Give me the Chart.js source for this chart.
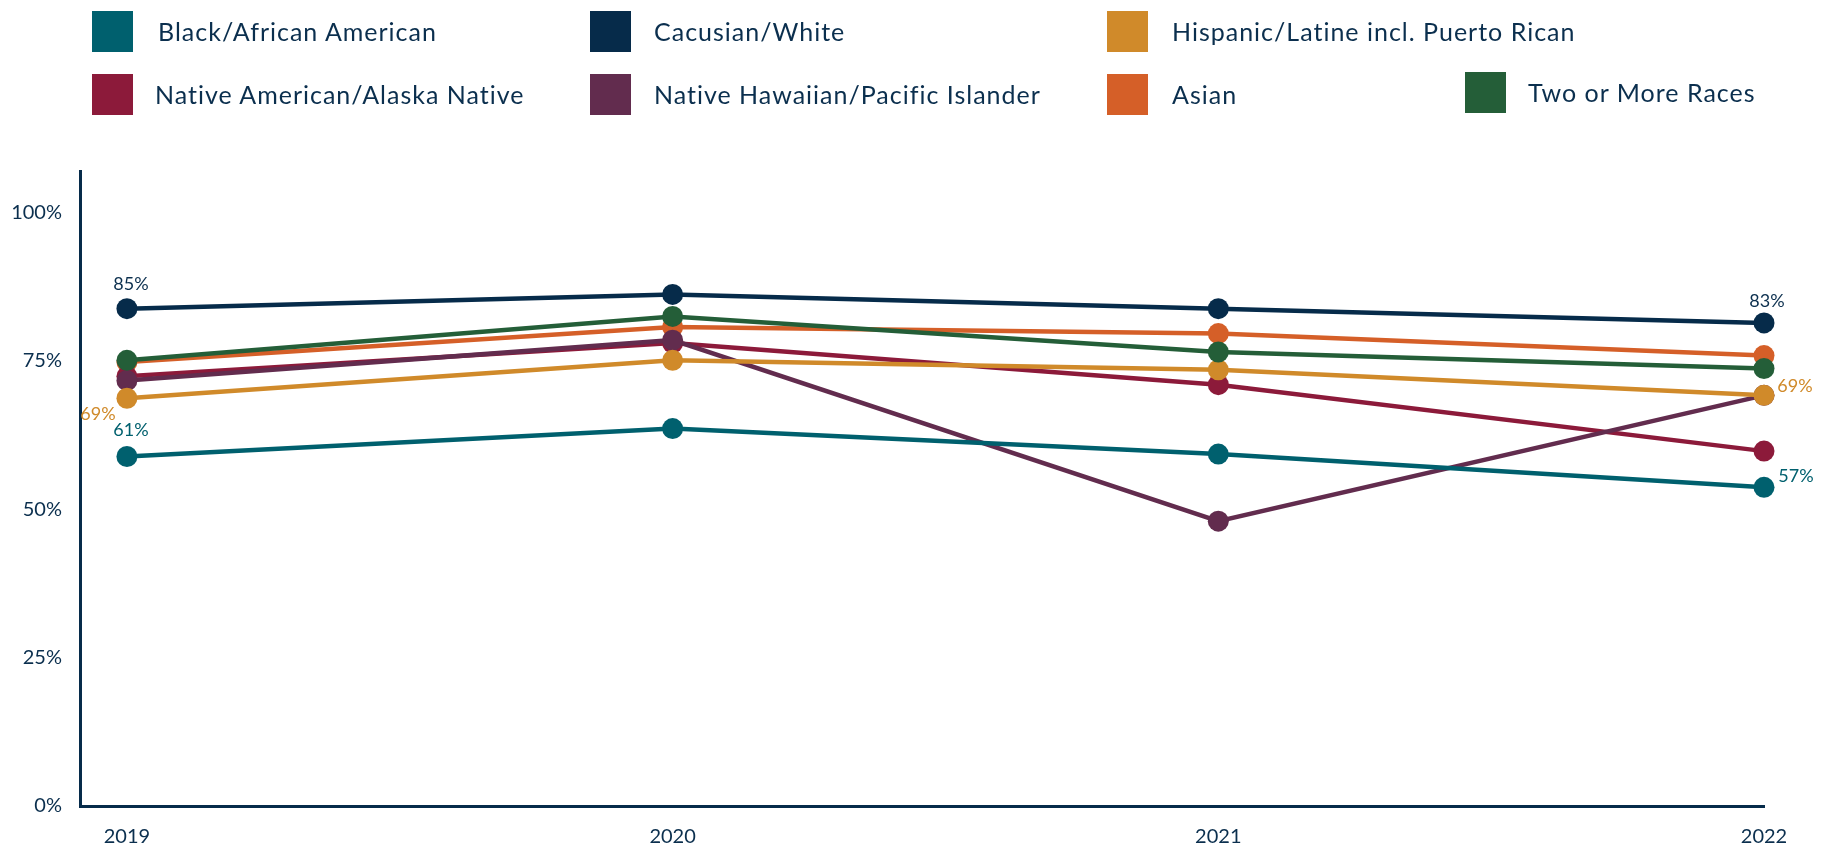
<!DOCTYPE html>
<html>
<head>
<meta charset="utf-8">
<script src="https://cdn.jsdelivr.net/npm/chart.js@4.4.1/dist/chart.umd.min.js"></script>
<style>
  html, body { margin: 0; padding: 0; background: #ffffff; }
  #wrap { position: relative; width: 1833px; height: 851px; overflow: hidden; }
  #chart { position: absolute; left: 0; top: 0; }
  .lg-item { position: absolute; height: 41px; display: flex; align-items: center; }
  .lg-box { width: 41px; height: 41px; flex: none; }
  .lg-text { position: absolute; white-space: nowrap; font-family: Lato, "Open Sans", sans-serif;
             font-size: 25px; letter-spacing: 1px; color: #0b2f4e; line-height: 41px; top: 0; }
</style>
</head>
<body>
<div id="wrap">
  <canvas id="chart" width="1833" height="851"></canvas>
  <div id="legend"></div>
</div>
<script>
// ---- Data ----
const years = [2019, 2020, 2021, 2022];
const seriesNames = [
  "Black/African American",
  "Cacusian/White",
  "Hispanic/Latine incl. Puerto Rican",
  "Native American/Alaska Native",
  "Native Hawaiian/Pacific Islander",
  "Asian",
  "Two or More Races"
];
const blackValues     = [58.9, 63.6, 59.3, 53.7];
const whiteValues     = [83.8, 86.2, 83.8, 81.4];
const hispanicValues  = [68.7, 75.1, 73.5, 69.2];
const nativeAmValues  = [72.4, 78.0, 71.0, 59.8];
const hawaiianValues  = [71.7, 78.5, 48.0, 69.2];
const asianValues     = [74.8, 80.7, 79.6, 75.9];
const twoPlusValues   = [75.1, 82.5, 76.5, 73.7];
const yTickValues = [0, 25, 50, 75, 100];
// printed point labels (as shown on the chart)
const blackLabels    = ["61%", null, null, "57%"];
const whiteLabels    = ["85%", null, null, "83%"];
const hispanicLabels = ["69%", null, null, "69%"];

// ---- Styles ----
const colors = ["#00606e", "#062b4a", "#d08a2a", "#8c1a3a", "#622c4e", "#d55f28", "#245e38"];
const drawOrder = [0, 0, 2, 4, 3, 5, 1];
const allValues = [blackValues, whiteValues, hispanicValues, nativeAmValues, hawaiianValues, asianValues, twoPlusValues];
const allLabels = [blackLabels, whiteLabels, hispanicLabels, null, null, null, null];
// label offsets (px) relative to point, per series, first & last point
const labelOffsets = {
  0: { 0: [4, -26], 3: [32, -11] },
  1: { 0: [4, -24], 3: [3, -22] },
  2: { 0: [-29, 16], 3: [31, -9] }
};
const textColor = "#0b2f4e";

// ---- Legend (HTML) ----
const legendPos = [
  [92, 11, 158], [590, 11, 654], [1107, 11, 1172],
  [92, 74, 155], [590, 74, 654], [1107, 74, 1172], [1465, 72, 1528]
];
const legendEl = document.getElementById('legend');
seriesNames.forEach((name, i) => {
  const [bx, by, tx] = legendPos[i];
  const box = document.createElement('div');
  box.className = 'lg-item';
  box.style.left = bx + 'px'; box.style.top = by + 'px';
  box.innerHTML = '<div class="lg-box" style="background:' + colors[i] + '"></div>';
  legendEl.appendChild(box);
  const t = document.createElement('div');
  t.className = 'lg-text';
  t.style.left = tx + 'px'; t.style.top = by + 'px';
  t.textContent = name;
  legendEl.appendChild(t);
});

// ---- Point label plugin ----
const pointLabelPlugin = {
  id: 'pointLabels',
  afterDatasetsDraw(chart) {
    const ctx = chart.ctx;
    ctx.save();
    ctx.font = '18px Lato, "Open Sans", sans-serif';
    ctx.textAlign = 'center';
    ctx.textBaseline = 'middle';
    allLabels.forEach((labels, di) => {
      if (!labels) return;
      const meta = chart.getDatasetMeta(di);
      labels.forEach((txt, pi) => {
        if (!txt) return;
        const el = meta.data[pi];
        const off = (labelOffsets[di] && labelOffsets[di][pi]) || [0, -22];
        ctx.fillStyle = colors[di] === "#062b4a" ? textColor : colors[di];
        ctx.fillText(txt, el.x + off[0], el.y + off[1]);
      });
    });
    ctx.restore();
  }
};

const datasets = seriesNames.map((name, i) => ({
  label: name,
  data: years.map((y, k) => ({ x: y, y: allValues[i][k] })),
  borderColor: colors[i],
  backgroundColor: colors[i],
  borderWidth: 4.5,
  pointRadius: 10.5,
  pointHoverRadius: 10.5,
  pointBorderWidth: 0,
  pointBackgroundColor: colors[i],
  tension: 0,
  clip: false,
  order: drawOrder[i]
}));

new Chart(document.getElementById('chart'), {
  type: 'line',
  data: { datasets },
  plugins: [pointLabelPlugin],
  options: {
    responsive: false,
    animation: false,
    devicePixelRatio: 1,
    layout: { padding: { top: 171, right: 69, left: 0, bottom: 0 } },
    plugins: { legend: { display: false }, tooltip: { enabled: false } },
    scales: {
      x: {
        type: 'linear',
        min: 2018.914,
        max: 2022,
        grid: { display: false },
        border: { display: true, color: '#062b4a', width: 3 },
        afterBuildTicks: (s) => { s.ticks = years.map(v => ({ value: v })); },
        afterFit: (s) => { s.height = 45; },
        ticks: {
          autoSkip: false,
          maxRotation: 0,
          padding: 11,
          color: textColor,
          font: { family: 'Lato, "Open Sans", sans-serif', size: 20 },
          callback: (v) => String(v)
        }
      },
      y: {
        min: 0,
        max: 107,
        grid: { display: false, drawTicks: false },
        border: { display: true, color: '#062b4a', width: 3 },
        afterBuildTicks: (s) => { s.ticks = yTickValues.map(v => ({ value: v })); },
        afterFit: (s) => { s.width = 80; },
        ticks: {
          padding: 18,
          color: textColor,
          font: { family: 'Lato, "Open Sans", sans-serif', size: 20 },
          callback: (v) => v + '%'
        }
      }
    }
  }
});
</script>
</body>
</html>
